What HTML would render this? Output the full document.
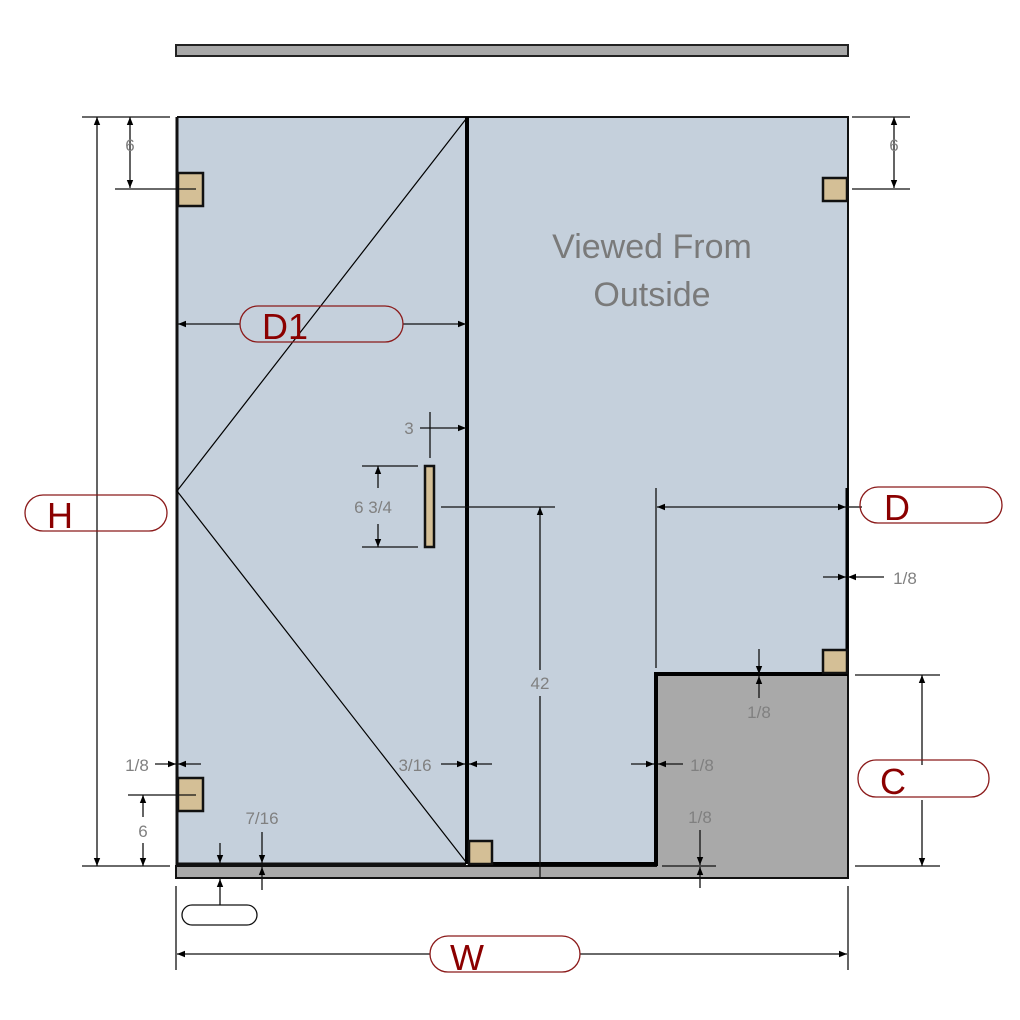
<!DOCTYPE html>
<html><head><meta charset="utf-8"><style>html,body{margin:0;padding:0;background:#fff}svg{display:block}</style></head><body>
<svg width="1020" height="1020" viewBox="0 0 1020 1020" xmlns="http://www.w3.org/2000/svg" font-family="Liberation Sans, DejaVu Sans, sans-serif">
<defs>
<marker id="a" viewBox="0 0 10 10" refX="10" refY="5" markerWidth="10" markerHeight="8" orient="auto-start-reverse" markerUnits="userSpaceOnUse"><path d="M0,1 L10,5 L0,9 z" fill="#000"/></marker>
</defs>
<!-- top bar -->
<rect x="176" y="45" width="672" height="11" fill="#a8a8a8" stroke="#222" stroke-width="2"/>
<!-- glass -->
<rect x="177" y="117" width="671" height="747" fill="#c5d0dc"/>
<!-- gray step -->
<path d="M656,674 H848 V878 H176 V866 H656 Z" fill="#a9a9a9" stroke="#111" stroke-width="2"/>
<rect x="656" y="675" width="191" height="190" fill="#a9a9a9"/>
<!-- glass outlines -->
<path d="M177,117 H848 V674" fill="none" stroke="#111" stroke-width="2"/>
<path d="M847,488 V674" stroke="#000" stroke-width="3"/>
<path d="M177,117 V864 H466" fill="none" stroke="#111" stroke-width="3"/>
<path d="M467,117 V864" stroke="#000" stroke-width="4"/>
<path d="M468,864 H656 V674 H848" fill="none" stroke="#000" stroke-width="4"/>
<path d="M466,119 L177,491 L466,862" fill="none" stroke="#000" stroke-width="1.2"/>
<!-- brackets -->
<g fill="#d4bf96" stroke="#111" stroke-width="2.5">
<rect x="178" y="173" width="25" height="33"/>
<rect x="178" y="778" width="25" height="33"/>
<rect x="823" y="178" width="24" height="23"/>
<rect x="823" y="650" width="24" height="23"/>
<rect x="469" y="841" width="23" height="23"/>
<rect x="425" y="466" width="9" height="81"/>
</g>
<!-- dimension lines -->
<g stroke="#111" stroke-width="1.3" fill="none">
<line x1="82" y1="117" x2="170" y2="117"/>
<line x1="82" y1="866" x2="170" y2="866"/>
<line x1="97" y1="117" x2="97" y2="866" marker-start="url(#a)" marker-end="url(#a)"/>
<line x1="130" y1="117" x2="130" y2="188" marker-start="url(#a)" marker-end="url(#a)"/>
<line x1="115" y1="189" x2="196" y2="189"/>
<line x1="852" y1="117" x2="910" y2="117"/>
<line x1="852" y1="189" x2="910" y2="189"/>
<line x1="894" y1="117" x2="894" y2="188" marker-start="url(#a)" marker-end="url(#a)"/>
<line x1="178" y1="324" x2="240" y2="324" marker-start="url(#a)"/>
<line x1="403" y1="324" x2="466" y2="324" marker-end="url(#a)"/>
<line x1="430" y1="412" x2="430" y2="458"/>
<line x1="420" y1="428" x2="466" y2="428" marker-end="url(#a)"/>
<line x1="362" y1="466" x2="418" y2="466"/>
<line x1="362" y1="547" x2="418" y2="547"/>
<line x1="378" y1="466" x2="378" y2="488" marker-start="url(#a)"/>
<line x1="378" y1="524" x2="378" y2="547" marker-end="url(#a)"/>
<line x1="441" y1="507" x2="555" y2="507"/>
<line x1="540" y1="507" x2="540" y2="670" marker-start="url(#a)"/>
<line x1="540" y1="696" x2="540" y2="878"/>
<line x1="656" y1="488" x2="656" y2="668"/>
<line x1="657" y1="507" x2="846" y2="507" marker-start="url(#a)" marker-end="url(#a)"/>
<line x1="846" y1="507" x2="862" y2="507"/>
<line x1="823" y1="577" x2="846" y2="577" marker-end="url(#a)"/>
<line x1="848" y1="577" x2="884" y2="577" marker-start="url(#a)"/>
<line x1="759" y1="649" x2="759" y2="674" marker-end="url(#a)"/>
<line x1="759" y1="676" x2="759" y2="698" marker-start="url(#a)"/>
<line x1="855" y1="675" x2="940" y2="675"/>
<line x1="855" y1="866" x2="940" y2="866"/>
<line x1="922" y1="675" x2="922" y2="765" marker-start="url(#a)"/>
<line x1="922" y1="800" x2="922" y2="866" marker-end="url(#a)"/>
<line x1="631" y1="764" x2="654" y2="764" marker-end="url(#a)"/>
<line x1="658" y1="764" x2="683" y2="764" marker-start="url(#a)"/>
<line x1="700" y1="830" x2="700" y2="865" marker-end="url(#a)"/>
<line x1="700" y1="867" x2="700" y2="888" marker-start="url(#a)"/>
<line x1="662" y1="866" x2="716" y2="866"/>
<line x1="155" y1="764" x2="176" y2="764" marker-end="url(#a)"/>
<line x1="178" y1="764" x2="201" y2="764" marker-start="url(#a)"/>
<line x1="441" y1="764" x2="465" y2="764" marker-end="url(#a)"/>
<line x1="469" y1="764" x2="492" y2="764" marker-start="url(#a)"/>
<line x1="128" y1="795" x2="196" y2="795"/>
<line x1="143" y1="795" x2="143" y2="817" marker-start="url(#a)"/>
<line x1="143" y1="843" x2="143" y2="866" marker-end="url(#a)"/>
<line x1="220" y1="843" x2="220" y2="863" marker-end="url(#a)"/>
<line x1="220" y1="879" x2="220" y2="905" marker-start="url(#a)"/>
<line x1="262" y1="832" x2="262" y2="863" marker-end="url(#a)"/>
<line x1="262" y1="867" x2="262" y2="890" marker-start="url(#a)"/>
<line x1="176" y1="886" x2="176" y2="970"/>
<line x1="848" y1="886" x2="848" y2="970"/>
<line x1="177" y1="954" x2="430" y2="954" marker-start="url(#a)"/>
<line x1="580" y1="954" x2="847" y2="954" marker-end="url(#a)"/>
</g>
<!-- pills -->
<g fill="none" stroke="#8b1a1a" stroke-width="1.3">
<rect x="240" y="306" width="163" height="36" rx="18"/>
<rect x="25" y="495" width="142" height="36" rx="18"/>
<rect x="860" y="487" width="142" height="36" rx="18"/>
<rect x="858" y="760" width="131" height="37" rx="18"/>
<rect x="430" y="936" width="150" height="36" rx="18"/>
</g>
<rect x="182" y="905" width="75" height="20" rx="10" fill="none" stroke="#111" stroke-width="1.3"/>
<!-- labels -->
<g fill="#8b0000" font-size="36">
<text x="262" y="339">D1</text>
<text x="47" y="528">H</text>
<text x="884" y="520">D</text>
<text x="880" y="794">C</text>
<text x="450" y="970">W</text>
</g>
<g fill="#808080" font-size="17" text-anchor="middle">
<text x="130" y="151">6</text>
<text x="894" y="151">6</text>
<text x="409" y="434">3</text>
<text x="373" y="513">6 3/4</text>
<text x="540" y="689">42</text>
<text x="905" y="584">1/8</text>
<text x="759" y="718">1/8</text>
<text x="702" y="771">1/8</text>
<text x="700" y="823">1/8</text>
<text x="137" y="771">1/8</text>
<text x="415" y="771">3/16</text>
<text x="143" y="837">6</text>
<text x="262" y="824">7/16</text>
</g>
<g fill="#7a7a7a" font-size="34" text-anchor="middle">
<text x="652" y="258">Viewed From</text>
<text x="652" y="306">Outside</text>
</g>
</svg>
</body></html>
